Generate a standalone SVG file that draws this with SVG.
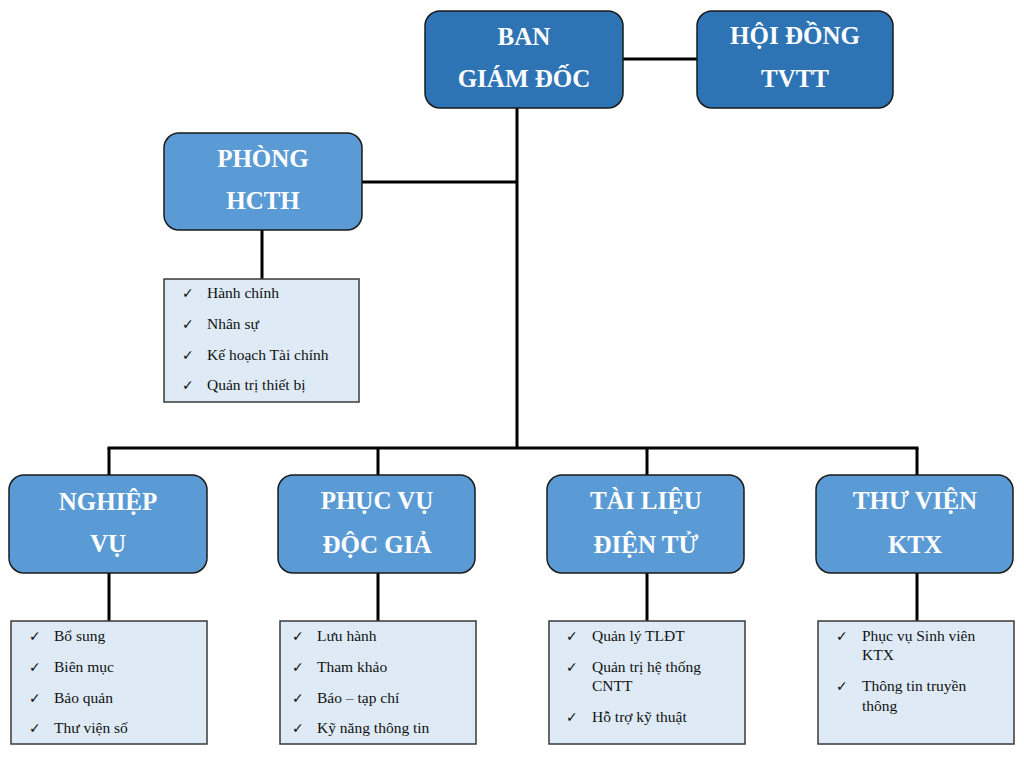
<svg xmlns="http://www.w3.org/2000/svg" width="1024" height="757" viewBox="0 0 1024 757">
<style>
.dark{fill:#2E74B5;stroke:#1a1a1a;stroke-width:1.5}
.light{fill:#5B9BD5;stroke:#1a1a1a;stroke-width:1.5}
.list{fill:#DEEBF7;stroke:#3a3a3a;stroke-width:1.5}
.t{font-family:"Liberation Serif","Times New Roman",serif;font-weight:bold;font-size:25px;fill:#fff;text-anchor:middle}
.i{font-family:"Liberation Serif","Times New Roman",serif;font-size:15.5px;fill:#111}
.c{font-family:"DejaVu Sans",sans-serif;font-size:14px;font-weight:bold;fill:#111}
.ln{stroke:#000;stroke-width:3;fill:none}
</style>
<rect width="1024" height="757" fill="#fff"/>
<g id="connectors">
<line class="ln" x1="517" y1="108" x2="517" y2="448"/>
<line class="ln" x1="623" y1="59" x2="697" y2="59"/>
<line class="ln" x1="362" y1="182" x2="517" y2="182"/>
<line class="ln" x1="262" y1="230" x2="262" y2="279"/>
<line class="ln" x1="107.5" y1="448" x2="918.5" y2="448"/>
<line class="ln" x1="109" y1="448" x2="109" y2="475"/>
<line class="ln" x1="378" y1="448" x2="378" y2="475"/>
<line class="ln" x1="647" y1="448" x2="647" y2="475"/>
<line class="ln" x1="917" y1="448" x2="917" y2="475"/>
<line class="ln" x1="109" y1="573" x2="109" y2="621"/>
<line class="ln" x1="378" y1="573" x2="378" y2="621"/>
<line class="ln" x1="647" y1="573" x2="647" y2="621"/>
<line class="ln" x1="917" y1="573" x2="917" y2="621"/>
</g>
<g id="ban-giam-doc">
<rect class="dark" x="425" y="11" width="198" height="97" rx="15"/>
<text class="t" x="524" y="45">BAN</text>
<text class="t" x="524" y="87">GIÁM ĐỐC</text>
</g>
<g id="hoi-dong">
<rect class="dark" x="697" y="11" width="196" height="97" rx="15"/>
<text class="t" x="795" y="44">HỘI ĐỒNG</text>
<text class="t" x="795" y="87">TVTT</text>
</g>
<g id="phong-hcth">
<rect class="light" x="164" y="133" width="198" height="97" rx="15"/>
<text class="t" x="263" y="167">PHÒNG</text>
<text class="t" x="263" y="209">HCTH</text>
</g>
<g id="list-hcth">
<rect class="list" x="164" y="279" width="195" height="123"/>
<text class="c" x="182" y="298">✓</text><text class="i" x="207" y="298">Hành chính</text>
<text class="c" x="182" y="329">✓</text><text class="i" x="207" y="329">Nhân sự</text>
<text class="c" x="182" y="360">✓</text><text class="i" x="207" y="360">Kế hoạch Tài chính</text>
<text class="c" x="182" y="390">✓</text><text class="i" x="207" y="390">Quản trị thiết bị</text>
</g>
<g id="nghiep-vu">
<rect class="light" x="9" y="475" width="198" height="98" rx="15"/>
<text class="t" x="108" y="510">NGHIỆP</text>
<text class="t" x="108" y="552">VỤ</text>
</g>
<g id="phuc-vu">
<rect class="light" x="278" y="475" width="197" height="98" rx="15"/>
<text class="t" x="377" y="509">PHỤC VỤ</text>
<text class="t" x="377" y="553">ĐỘC GIẢ</text>
</g>
<g id="tai-lieu">
<rect class="light" x="547" y="475" width="197" height="98" rx="15"/>
<text class="t" x="646" y="509">TÀI LIỆU</text>
<text class="t" x="646" y="553">ĐIỆN TỬ</text>
</g>
<g id="thu-vien">
<rect class="light" x="816" y="475" width="197" height="98" rx="15"/>
<text class="t" x="915" y="509">THƯ VIỆN</text>
<text class="t" x="915" y="553">KTX</text>
</g>
<g id="list-nghiep-vu">
<rect class="list" x="11" y="621" width="196" height="123"/>
<text class="c" x="29" y="641">✓</text><text class="i" x="54" y="641">Bổ sung</text>
<text class="c" x="29" y="672">✓</text><text class="i" x="54" y="672">Biên mục</text>
<text class="c" x="29" y="703">✓</text><text class="i" x="54" y="703">Bảo quản</text>
<text class="c" x="29" y="733">✓</text><text class="i" x="54" y="733">Thư viện số</text>
</g>
<g id="list-phuc-vu">
<rect class="list" x="280" y="621" width="196" height="123"/>
<text class="c" x="292" y="641">✓</text><text class="i" x="317" y="641">Lưu hành</text>
<text class="c" x="292" y="672">✓</text><text class="i" x="317" y="672">Tham khảo</text>
<text class="c" x="292" y="703">✓</text><text class="i" x="317" y="703">Báo – tạp chí</text>
<text class="c" x="292" y="733">✓</text><text class="i" x="317" y="733">Kỹ năng thông tin</text>
</g>
<g id="list-tai-lieu">
<rect class="list" x="549" y="621" width="196" height="123"/>
<text class="c" x="566" y="641">✓</text><text class="i" x="592" y="641">Quản lý TLĐT</text>
<text class="c" x="566" y="672">✓</text><text class="i" x="592" y="672">Quản trị hệ thống</text>
<text class="i" x="592" y="691">CNTT</text>
<text class="c" x="566" y="722">✓</text><text class="i" x="592" y="722">Hỗ trợ kỹ thuật</text>
</g>
<g id="list-thu-vien">
<rect class="list" x="818" y="621" width="196" height="123"/>
<text class="c" x="836" y="641">✓</text><text class="i" x="862" y="641">Phục vụ Sinh viên</text>
<text class="i" x="862" y="660">KTX</text>
<text class="c" x="836" y="691">✓</text><text class="i" x="862" y="691">Thông tin truyền</text>
<text class="i" x="862" y="711">thông</text>
</g>
</svg>
